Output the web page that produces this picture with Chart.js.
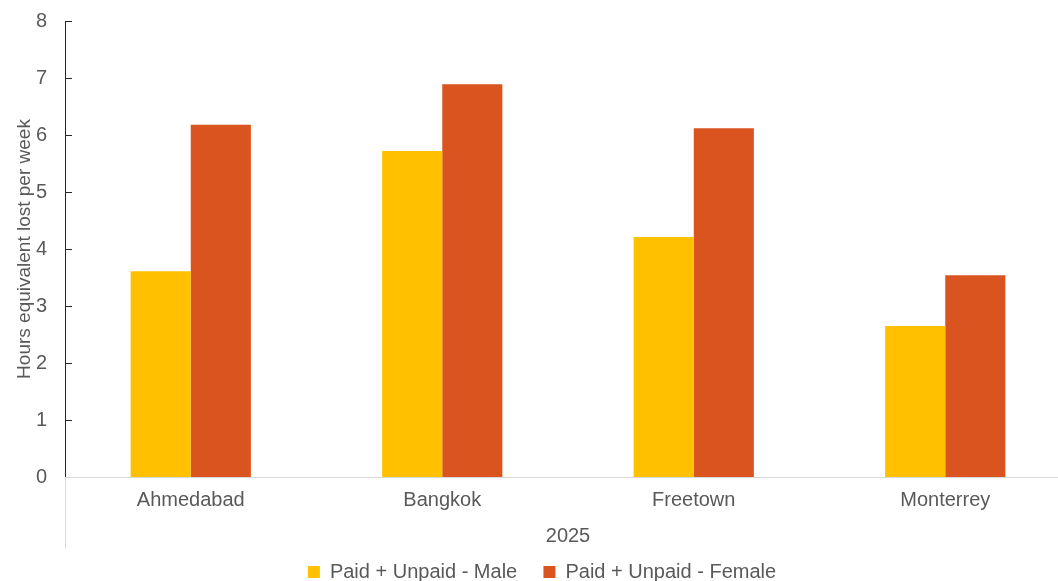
<!DOCTYPE html>
<html>
<head>
<meta charset="utf-8">
<script src="https://cdn.jsdelivr.net/npm/chart.js@4.4.1/dist/chart.umd.min.js"></script>
<style>
  html, body { margin: 0; padding: 0; background: #fff; overflow: hidden; }
  #wrap { width: 1071px; height: 592px; position: relative; }
</style>
</head>
<body>
<div id="wrap"><canvas id="chart"></canvas></div>
<script>
// Data
const cities = ['Ahmedabad', 'Bangkok', 'Freetown', 'Monterrey'];
const yearLabels = ['2025'];
const maleHours = [3.61, 5.72, 4.21, 2.65];
const femaleHours = [6.18, 6.89, 6.12, 3.54];
const yTicks = [0, 1, 2, 3, 4, 5, 6, 7, 8];

const textColor = '#595959';
const fontFamily = '"Liberation Sans", Arial, sans-serif';

// inside tick marks on the y axis + the grey group divider under the x axis
const axisDecor = {
    id: 'axisDecor',
    afterDraw(chart) {
        const { ctx, chartArea, scales } = chart;
        const y = scales.y;
        ctx.save();
        ctx.strokeStyle = '#262626';
        ctx.lineWidth = 1;
        yTicks.forEach(v => {
            if (v === 0) return;
            const py = Math.round(y.getPixelForValue(v)) + 0.5;
            ctx.beginPath();
            ctx.moveTo(chartArea.left, py);
            ctx.lineTo(chartArea.left + 7, py);
            ctx.stroke();
        });
        ctx.strokeStyle = '#d9d9d9';
        ctx.beginPath();
        ctx.moveTo(chartArea.left + 0.5, chartArea.bottom);
        ctx.lineTo(chartArea.left + 0.5, chartArea.bottom + 71);
        ctx.stroke();
        ctx.restore();
    }
};

new Chart(document.getElementById('chart'), {
    type: 'bar',
    data: {
        labels: cities,
        datasets: [{
            label: 'Paid + Unpaid - Male',
            data: maleHours,
            backgroundColor: '#FFC000',
            borderWidth: 0
        }, {
            label: 'Paid + Unpaid - Female',
            data: femaleHours,
            backgroundColor: '#D9541E',
            borderWidth: 0
        }]
    },
    options: {
        responsive: true,
        maintainAspectRatio: false,
        animation: false,
        datasets: {
            bar: { barPercentage: 1, categoryPercentage: 0.478 }
        },
        layout: { padding: { top: 21, right: 0, left: 13, bottom: 0 } },
        plugins: {
            legend: {
                position: 'bottom',
                labels: {
                    color: textColor,
                    font: { family: fontFamily, size: 20 },
                    boxWidth: 12,
                    boxHeight: 12,
                    padding: 4,
                    // wider gap after the first entry
                    generateLabels(chart) {
                        const items = Chart.defaults.plugins.legend.labels.generateLabels(chart);
                        items[0].text = items[0].text + '    ';
                        return items;
                    }
                }
            },
            tooltip: { enabled: false }
        },
        scales: {
            x: {
                grid: { display: false, drawTicks: false },
                border: { display: true, color: '#d9d9d9', width: 1 },
                ticks: { color: textColor, font: { family: fontFamily, size: 20 }, padding: 11 },
                afterFit(s) { s.height = 41; }
            },
            x2: {
                type: 'category',
                labels: yearLabels,
                position: 'bottom',
                grid: { display: false, drawTicks: false },
                border: { display: false },
                ticks: { color: textColor, font: { family: fontFamily, size: 20 }, padding: 6 },
                afterFit(s) { s.height = 40; }
            },
            y: {
                min: 0,
                max: 8,
                afterBuildTicks(s) { s.ticks = yTicks.map(v => ({ value: v })); },
                grid: { display: false, drawTicks: false },
                border: { display: true, color: '#262626', width: 1 },
                ticks: { color: textColor, font: { family: fontFamily, size: 20 }, padding: 18 },
                title: {
                    display: true,
                    text: 'Hours equivalent lost per week',
                    color: textColor,
                    font: { family: fontFamily, size: 19 },
                    padding: { top: 0, bottom: 0 }
                },
                afterFit(s) {
                    s.width = 52;
                    s.paddingTop = 0;
                    s.paddingBottom = 0;
                }
            }
        }
    },
    plugins: [axisDecor]
});
</script>
</body>
</html>
